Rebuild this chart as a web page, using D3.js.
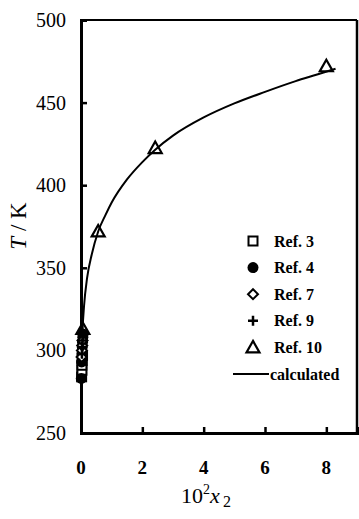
<!DOCTYPE html>
<html>
<head>
<meta charset="utf-8">
<script src="https://cdn.jsdelivr.net/npm/d3@7"></script>
<style>
  html, body { margin: 0; padding: 0; background: #fff; }
  svg { display: block; }
</style>
</head>
<body>
<svg id="chart" width="359" height="519"></svg>
<script>
// Solubility temperature T versus 10^2 x2, literature data and the calculated curve
const xTicks = [0, 2, 4, 6, 8];
const yTicks = [250, 300, 350, 400, 450, 500];

const ref3X = [0.02, 0.03, 0.03, 0.04, 0.05];
const ref3T = [284, 288, 291, 294, 297];
const ref4X = [0.01, 0.02, 0.03, 0.04, 0.05, 0.06, 0.07];
const ref4T = [283, 293, 298, 302, 305, 308, 310];
const ref7X = [0.02, 0.03, 0.04, 0.05];
const ref7T = [296, 300, 303, 306];
const ref9X = [0.03, 0.04, 0.05, 0.06];
const ref9T = [298, 302, 306, 309];
const ref10X = [0.06, 0.56, 2.42, 8.0];
const ref10T = [313, 372, 422.5, 472];

const calcX = [0.01, 0.02, 0.05, 0.1, 0.2, 0.35, 0.56, 0.8, 1.0, 1.5, 2.0, 2.42, 3.0, 4.0, 5.0, 6.0, 7.0, 7.7, 8.3];
const calcT = [285, 294, 312, 327, 344, 358, 372, 382, 389.5, 403.5, 414, 421.5, 430, 441, 449.5, 456.5, 463, 467, 470.5];

const legendLabels = ["Ref. 3", "Ref. 4", "Ref. 7", "Ref. 9", "Ref. 10", "calculated"];

const svg = d3.select("#chart");
const x = d3.scaleLinear().domain([0, 9]).range([81, 357]);
const y = d3.scaleLinear().domain([250, 500]).range([433, 20]);

const serif = "'Liberation Serif', 'Times New Roman', serif";

// frame
svg.append("line").attr("x1", x(0)).attr("x2", x(9)).attr("y1", y(500)).attr("y2", y(500))
  .attr("stroke", "#000").attr("stroke-width", 2);
svg.append("line").attr("x1", x(9)).attr("x2", x(9)).attr("y1", y(500)).attr("y2", y(250))
  .attr("stroke", "#000").attr("stroke-width", 2.5);

// axes with inward ticks
const gx = svg.append("g").attr("transform", `translate(0,${y(250)})`)
  .call(d3.axisTop(x).tickValues(xTicks).tickSize(6).tickFormat(""));
const gy = svg.append("g").attr("transform", `translate(${x(0)},0)`)
  .call(d3.axisRight(y).tickValues(yTicks).tickSize(6).tickFormat(""));
[gx, gy].forEach(g => {
  g.select(".domain").attr("stroke", "#000").attr("stroke-width", 3);
  g.selectAll(".tick line").attr("stroke", "#000").attr("stroke-width", 2.5);
});

// tick labels
svg.append("g").selectAll("text").data(xTicks).join("text")
  .attr("x", d => x(d)).attr("y", 474)
  .attr("text-anchor", "middle")
  .attr("font-family", serif).attr("font-size", 19).attr("font-weight", "bold")
  .text(d => d);
svg.append("g").selectAll("text").data(yTicks).join("text")
  .attr("x", 66).attr("y", d => y(d) + 7)
  .attr("text-anchor", "end")
  .attr("font-family", serif).attr("font-size", 20)
  .text(d => d);

// axis titles
const yt = svg.append("text")
  .attr("transform", "translate(26,226) rotate(-90)")
  .attr("text-anchor", "middle")
  .attr("font-family", serif).attr("font-size", 23);
yt.append("tspan").attr("font-style", "italic").text("T");
yt.append("tspan").text(" / K");

const xt = svg.append("text")
  .attr("x", 206).attr("y", 503)
  .attr("text-anchor", "middle")
  .attr("font-family", serif).attr("font-size", 22);
xt.append("tspan").text("10");
xt.append("tspan").attr("font-size", 14).attr("dy", -9).text("2");
xt.append("tspan").attr("font-style", "italic").attr("dy", 9).text("x");
xt.append("tspan").attr("font-size", 16).attr("dy", 4).text("\u20092");

// calculated curve
const calc = calcX.map((d, i) => [d, calcT[i]]);
svg.append("path").datum(calc)
  .attr("fill", "none").attr("stroke", "#000").attr("stroke-width", 2)
  .attr("d", d3.line().x(d => x(d[0])).y(d => y(d[1])).curve(d3.curveMonotoneX));

// marker drawing
function marker(g, type) {
  if (type === "square") {
    g.append("rect").attr("x", -4.5).attr("y", -4.5).attr("width", 9).attr("height", 9)
      .attr("fill", "#fff").attr("stroke", "#000").attr("stroke-width", 2);
  } else if (type === "circle") {
    g.append("circle").attr("r", 5.5).attr("fill", "#000");
  } else if (type === "diamond") {
    g.append("path").attr("d", "M0,-5L5,0L0,5L-5,0Z")
      .attr("fill", "#fff").attr("stroke", "#000").attr("stroke-width", 2);
  } else if (type === "plus") {
    g.append("path").attr("d", "M-5,0H5M0,-5V5")
      .attr("stroke", "#000").attr("stroke-width", 2.5);
  } else if (type === "triangle") {
    g.append("path").attr("d", "M0,-6.5L6.5,5L-6.5,5Z")
      .attr("fill", "none").attr("stroke", "#000").attr("stroke-width", 2.2)
      .attr("stroke-linejoin", "miter");
  }
}

const series = [
  { xs: ref3X, ts: ref3T, type: "square" },
  { xs: ref4X, ts: ref4T, type: "circle" },
  { xs: ref7X, ts: ref7T, type: "diamond" },
  { xs: ref9X, ts: ref9T, type: "plus" },
  { xs: ref10X, ts: ref10T, type: "triangle" }
];

series.forEach(s => {
  s.xs.forEach((xv, i) => {
    const g = svg.append("g").attr("transform", `translate(${x(xv)},${y(s.ts[i])})`);
    marker(g, s.type);
  });
});

// legend
const lg = svg.append("g");
legendLabels.forEach((lab, i) => {
  const cy = 241 + i * 26.6;
  if (i < 5) {
    const g = lg.append("g").attr("transform", `translate(253,${cy})`);
    marker(g, series[i].type);
  } else {
    lg.append("line").attr("x1", 233).attr("x2", 269).attr("y1", cy).attr("y2", cy)
      .attr("stroke", "#000").attr("stroke-width", 2);
  }
  lg.append("text")
    .attr("x", i < 5 ? 274 : 270).attr("y", cy + 5.5)
    .attr("font-family", serif).attr("font-size", 16).attr("font-weight", "bold")
    .text(lab);
});
</script>
</body>
</html>
